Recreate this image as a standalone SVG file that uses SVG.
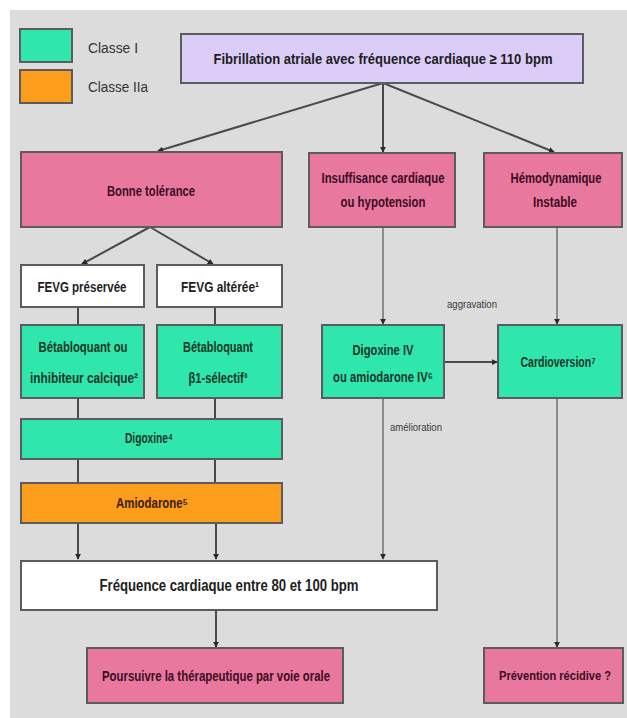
<svg xmlns="http://www.w3.org/2000/svg" width="627" height="718" viewBox="0 0 627 718">
<defs>
<style>
.box{stroke:#5c5c5c;stroke-width:2}
.purple{fill:#dccdf8}
.pink{fill:#e9789f}
.green{fill:#2fe6ad}
.orange{fill:#fd9d1c}
.white{fill:#ffffff}
.t{font-family:"Liberation Sans",Arial,sans-serif;font-weight:bold;text-anchor:middle;fill:#1e1e1e}
.tp{fill:#3c0c24}
.tg{fill:#173626}
.to{fill:#3a2000}
.lg{font-family:"Liberation Sans",Arial,sans-serif;fill:#333;font-size:14px}
.sm{font-family:"Liberation Sans",Arial,sans-serif;fill:#3a3a3a;font-size:10px;text-anchor:middle}
.ln{stroke:#4a4a4a;stroke-width:2;fill:none}
.lt{stroke:#555;stroke-width:1.2;fill:none}
</style>
<marker id="ah" viewBox="0 0 8 8" refX="7" refY="4" markerWidth="6" markerHeight="6" markerUnits="userSpaceOnUse" orient="auto">
<path d="M0,0 L8,4 L0,8 z" fill="#2a2a2a"/>
</marker>
</defs>
<rect x="0" y="0" width="627" height="718" fill="#ffffff"/>
<rect x="10" y="10" width="617" height="708" fill="#dcdcdc"/>

<g id="legend">
<rect class="box green" x="20" y="29" width="52" height="33"/>
<rect class="box orange" x="20" y="70" width="52" height="33"/>
<text class="lg" x="88" y="53" textLength="50" lengthAdjust="spacingAndGlyphs">Classe I</text>
<text class="lg" x="88" y="92" textLength="60" lengthAdjust="spacingAndGlyphs">Classe IIa</text>
</g>

<g id="connectors">
<line class="ln" x1="383" y1="83" x2="158" y2="151" marker-end="url(#ah)"/>
<line class="ln" x1="383" y1="83" x2="383" y2="152" marker-end="url(#ah)"/>
<line class="ln" x1="383" y1="83" x2="554" y2="152" marker-end="url(#ah)"/>
<line class="ln" x1="150" y1="227" x2="82" y2="264" marker-end="url(#ah)"/>
<line class="ln" x1="150" y1="227" x2="213" y2="264" marker-end="url(#ah)"/>
<line class="ln" x1="78" y1="307" x2="78" y2="325"/>
<line class="ln" x1="215" y1="307" x2="215" y2="325"/>
<line class="ln" x1="78" y1="398" x2="78" y2="419"/>
<line class="ln" x1="215" y1="398" x2="215" y2="419"/>
<line class="ln" x1="78" y1="459" x2="78" y2="483"/>
<line class="ln" x1="215" y1="459" x2="215" y2="483"/>
<line class="ln" x1="78" y1="523" x2="78" y2="559" marker-end="url(#ah)"/>
<line class="ln" x1="216" y1="523" x2="216" y2="559" marker-end="url(#ah)"/>
<line class="lt" x1="383" y1="227" x2="383" y2="324" marker-end="url(#ah)"/>
<line class="lt" x1="557" y1="227" x2="557" y2="324" marker-end="url(#ah)"/>
<line class="ln" x1="444" y1="362" x2="497" y2="362" marker-end="url(#ah)"/>
<line class="lt" x1="383" y1="398" x2="383" y2="559" marker-end="url(#ah)"/>
<line class="lt" x1="557" y1="398" x2="557" y2="647" marker-end="url(#ah)"/>
<line class="ln" x1="216" y1="610" x2="216" y2="647" marker-end="url(#ah)"/>
<text class="sm" x="472" y="308" textLength="50" lengthAdjust="spacingAndGlyphs">aggravation</text>
<text class="sm" x="416" y="431" textLength="52" lengthAdjust="spacingAndGlyphs">amélioration</text>
</g>

<g id="n-fa">
<rect class="box purple" x="181" y="34" width="402" height="49"/>
<text class="t" x="383" y="64" font-size="15" textLength="339" lengthAdjust="spacingAndGlyphs">Fibrillation atriale avec fréquence cardiaque ≥ 110 bpm</text>
</g>

<g id="n-bonne">
<rect class="box pink" x="21" y="152" width="261" height="75"/>
<text class="t tp" x="151" y="196" font-size="14" textLength="88" lengthAdjust="spacingAndGlyphs">Bonne tolérance</text>
</g>

<g id="n-insuff">
<rect class="box pink" x="309" y="153" width="146" height="74"/>
<text class="t tp" x="383" y="183" font-size="14" textLength="123" lengthAdjust="spacingAndGlyphs">Insuffisance cardiaque</text>
<text class="t tp" x="383" y="207" font-size="14" textLength="85" lengthAdjust="spacingAndGlyphs">ou hypotension</text>
</g>

<g id="n-hemo">
<rect class="box pink" x="484" y="153" width="138" height="74"/>
<text class="t tp" x="556" y="183" font-size="14" textLength="91" lengthAdjust="spacingAndGlyphs">Hémodynamique</text>
<text class="t tp" x="555" y="207" font-size="14" textLength="44" lengthAdjust="spacingAndGlyphs">Instable</text>
</g>

<g id="n-fevg-p">
<rect class="box white" x="21" y="265" width="123" height="42"/>
<text class="t" x="82" y="292" font-size="14" textLength="89" lengthAdjust="spacingAndGlyphs">FEVG préservée</text>
</g>

<g id="n-fevg-a">
<rect class="box white" x="157" y="265" width="125" height="42"/>
<text class="t" x="220" y="292" font-size="14" textLength="78" lengthAdjust="spacingAndGlyphs">FEVG altérée¹</text>
</g>

<g id="n-beta1">
<rect class="box green" x="21" y="325" width="123" height="73"/>
<text class="t tg" x="83" y="352" font-size="14" textLength="89" lengthAdjust="spacingAndGlyphs">Bétabloquant ou</text>
<text class="t tg" x="84" y="383" font-size="14" textLength="108" lengthAdjust="spacingAndGlyphs">inhibiteur calcique²</text>
</g>

<g id="n-beta2">
<rect class="box green" x="157" y="325" width="125" height="73"/>
<text class="t tg" x="218" y="352" font-size="14" textLength="70" lengthAdjust="spacingAndGlyphs">Bétabloquant</text>
<text class="t tg" x="218" y="383" font-size="14" textLength="59" lengthAdjust="spacingAndGlyphs">β1-sélectif³</text>
</g>

<g id="n-digoxine">
<rect class="box green" x="21" y="419" width="261" height="40"/>
<text class="t tg" x="149" y="443" font-size="14" textLength="48" lengthAdjust="spacingAndGlyphs">Digoxine⁴</text>
</g>

<g id="n-amio">
<rect class="box orange" x="21" y="483" width="261" height="40"/>
<text class="t to" x="152" y="508" font-size="14" textLength="72" lengthAdjust="spacingAndGlyphs">Amiodarone⁵</text>
</g>

<g id="n-digiv">
<rect class="box green" x="322" y="325" width="122" height="73"/>
<text class="t tg" x="383" y="355" font-size="14" textLength="61" lengthAdjust="spacingAndGlyphs">Digoxine IV</text>
<text class="t tg" x="383" y="382" font-size="14" textLength="100" lengthAdjust="spacingAndGlyphs">ou amiodarone IV⁶</text>
</g>

<g id="n-cardio">
<rect class="box green" x="498" y="325" width="124" height="73"/>
<text class="t tg" x="558" y="367" font-size="14" textLength="75" lengthAdjust="spacingAndGlyphs">Cardioversion⁷</text>
</g>

<g id="n-freq">
<rect class="box white" x="21" y="561" width="416" height="49"/>
<text class="t" x="229" y="591" font-size="16" textLength="259" lengthAdjust="spacingAndGlyphs">Fréquence cardiaque entre 80 et 100 bpm</text>
</g>

<g id="n-pours">
<rect class="box pink" x="87" y="648" width="256" height="55"/>
<text class="t tp" x="216" y="681" font-size="14" textLength="228" lengthAdjust="spacingAndGlyphs">Poursuivre la thérapeutique par voie orale</text>
</g>

<g id="n-prev">
<rect class="box pink" x="484" y="648" width="139" height="55"/>
<text class="t tp" x="555" y="680" font-size="12" textLength="112" lengthAdjust="spacingAndGlyphs">Prévention récidive ?</text>
</g>
</svg>
